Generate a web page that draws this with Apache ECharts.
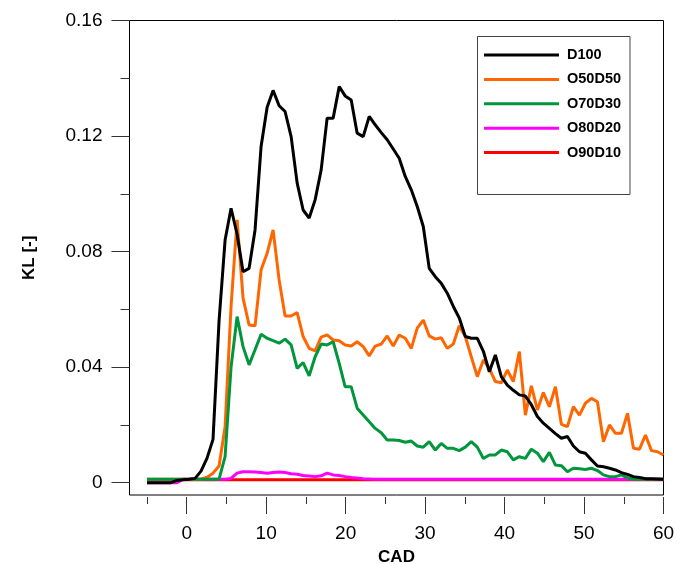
<!DOCTYPE html>
<html>
<head>
<meta charset="utf-8">
<script src="https://cdn.jsdelivr.net/npm/echarts@6/dist/echarts.min.js"></script>
<style>
html,body{margin:0;padding:0;background:#fff;}
#chart{width:689px;height:564px;}
</style>
</head>
<body>
<div id="chart"></div>
<script>
// Crank angle (CAD) sample positions
const cad = [-5.00,-4.24,-3.49,-2.73,-1.98,-1.22,-0.47,0.29,1.05,1.80,
  2.56,3.31,4.07,4.83,5.58,6.34,7.09,7.85,8.60,9.36,
  10.12,10.87,11.63,12.38,13.14,13.90,14.65,15.41,16.16,16.92,
  17.67,18.43,19.19,19.94,20.70,21.45,22.21,22.97,23.72,24.48,
  25.23,25.99,26.74,27.50,28.26,29.01,29.77,30.52,31.28,32.03,
  32.79,33.55,34.30,35.06,35.81,36.57,37.33,38.08,38.84,39.59,
  40.35,41.10,41.86,42.62,43.37,44.13,44.88,45.64,46.40,47.15,
  47.91,48.66,49.42,50.17,50.93,51.69,52.44,53.20,53.95,54.71,
  55.47,56.22,56.98,57.73,58.49,59.24,60.00];

const d100 = [0,0,0,0,0,0.0008,0.001,0.0012,0.0015,0.004,
  0.0085,0.015,0.056,0.084,0.095,0.086,0.073,0.0742,0.0875,0.1164,
  0.130,0.1358,0.1305,0.1285,0.1198,0.1037,0.0944,0.0916,0.0979,0.1083,
  0.1262,0.1262,0.1371,0.1339,0.1325,0.121,0.1198,0.1268,0.1239,0.1212,
  0.1187,0.1155,0.1123,0.106,0.1014,0.0956,0.0887,0.0742,0.0713,0.069,
  0.0656,0.061,0.057,0.0506,0.050,0.050,0.0455,0.0384,0.0442,0.0367,
  0.0338,0.032,0.0304,0.030,0.027,0.0229,0.0206,0.0188,0.017,0.0154,
  0.016,0.0127,0.0107,0.0102,0.0079,0.0058,0.0055,0.005,0.0044,0.0035,
  0.0029,0.0021,0.0018,0.0014,0.0014,0.0013,0.0012];

const o50d50 = [0.0012,0.0012,0.0012,0.0012,0.0012,0.0012,0.0012,0.0012,0.0012,0.0012,
  0.0019,0.0033,0.0058,0.0194,0.061,0.091,0.0639,0.0546,0.0543,0.0737,
  0.0794,0.0875,0.0702,0.0577,0.0577,0.0589,0.0506,0.0465,0.0456,0.0504,
  0.0512,0.0494,0.0491,0.0477,0.0473,0.0488,0.0471,0.0439,0.0473,0.048,
  0.0508,0.0473,0.0511,0.050,0.0465,0.0535,0.0563,0.0508,0.0497,0.0502,
  0.0465,0.048,0.0543,0.0506,0.0436,0.0367,0.0425,0.0396,0.035,0.0346,
  0.039,0.035,0.0454,0.0234,0.0335,0.0252,0.0312,0.0263,0.0332,0.0202,
  0.0194,0.0263,0.0234,0.0275,0.0292,0.028,0.0142,0.020,0.0171,0.0171,
  0.024,0.0119,0.0116,0.0165,0.0111,0.0107,0.0096];

const o70d30 = [0.0012,0.0012,0.0012,0.0012,0.0012,0.0012,0.0012,0.0012,0.0012,0.0012,
  0.0012,0.0012,0.0012,0.009,0.040,0.0575,0.0471,0.0408,0.046,0.0514,
  0.050,0.0492,0.0483,0.0497,0.0477,0.0396,0.0416,0.037,0.0436,0.048,
  0.0477,0.0488,0.0413,0.0332,0.0332,0.0258,0.0234,0.0211,0.0188,0.0173,
  0.0148,0.0148,0.0146,0.014,0.0144,0.0127,0.0123,0.0142,0.0113,0.0136,
  0.0119,0.0119,0.0111,0.0123,0.0142,0.0123,0.0084,0.0096,0.0096,0.0113,
  0.0107,0.0079,0.009,0.0084,0.0116,0.0102,0.0073,0.0105,0.0061,0.0059,
  0.0038,0.005,0.0048,0.0046,0.005,0.0042,0.0027,0.0021,0.0021,0.0027,
  0.0017,0.0012,0.0012,0.0012,0.0012,0.0012,0.0012];

const o80d20 = [0,0,0,0,0,0,0.0012,0.0012,0.0012,0.0012,
  0.0012,0.0012,0.0012,0.0012,0.0015,0.0033,0.0038,0.0038,0.0037,0.0035,
  0.0033,0.0035,0.0037,0.0035,0.0031,0.0029,0.0025,0.0023,0.0021,0.0024,
  0.0033,0.0027,0.0025,0.0021,0.0018,0.0016,0.0014,0.0013,0.0012,0.0012,
  0.0012,0.0012,0.0012,0.0012,0.0012,0.0012,0.0012,0.0012,0.0012,0.0012,
  0.0012,0.0012,0.0012,0.0012,0.0012,0.0012,0.0012,0.0012,0.0012,0.0012,
  0.0012,0.0012,0.0012,0.0012,0.0012,0.0012,0.0012,0.0012,0.0012,0.0012,
  0.0012,0.0012,0.0012,0.0012,0.0012,0.0012,0.0012,0.0012,0.0012,0.0012,
  0.0012,0.0012,0.0012,0.0012,0.0012,0.0012,0.0012];

const o90d10 = [0.001,0.001,0.001,0.001,0.001,0.001,0.001,0.001,0.001,0.001,
  0.001,0.001,0.001,0.001,0.001,0.001,0.001,0.001,0.001,0.001,
  0.001,0.001,0.001,0.001,0.001,0.001,0.001,0.001,0.001,0.001,
  0.001,0.001,0.001,0.001,0.001,0.001,0.001,0.001,0.001,0.001,
  0.001,0.001,0.001,0.001,0.001,0.001,0.001,0.001,0.001,0.001,
  0.001,0.001,0.001,0.001,0.001,0.001,0.001,0.001,0.001,0.001,
  0.001,0.001,0.001,0.001,0.001,0.001,0.001,0.001,0.001,0.001,
  0.001,0.001,0.001,0.001,0.001,0.001,0.001,0.001,0.001,0.001,
  0.001,0.001,0.001,0.001,0.001,0.001,0.001];

const seriesNames = ['D100','O50D50','O70D30','O80D20','O90D10'];
const xMajorTicks = [0,10,20,30,40,50,60];
const xMinorTicks = [-5,5,15,25,35,45,55];
const yMajorTicks = [0,0.04,0.08,0.12,0.16];
const yMinorTicks = [0.02,0.06,0.10,0.14];

const FONT = '"Liberation Sans", Arial, Helvetica, sans-serif';
const pair = arr => cad.map((x, i) => [x, arr[i]]);

const chart = echarts.init(document.getElementById('chart'), null, {renderer: 'canvas'});

const mkSeries = (name, arr, color, z) => ({
  name, type: 'line', data: pair(arr), symbol: 'none', showSymbol: false,
  lineStyle: {color, width: 3}, itemStyle: {color}, z, animation: false
});

const hiddenLine = {show: false, onZero: false};

chart.setOption({
  animation: false,
  backgroundColor: '#fff',
  grid: {left: 129.5, top: 20.5, right: 25.5, bottom: 69, show: true,
         containLabel: false, outerBoundsMode: 'none',
         borderColor: '#000', borderWidth: 1, backgroundColor: 'transparent'},
  xAxis: [{
    type: 'value', min: -7.2, max: 60, offset: 2, position: 'bottom',
    axisLine: hiddenLine, splitLine: {show: false},
    axisTick: {show: true, customValues: xMajorTicks, length: 17, lineStyle: {color: '#333', width: 1}},
    axisLabel: {customValues: xMajorTicks, fontSize: 19, color: '#000', fontFamily: FONT, margin: 27.5},
    name: 'CAD', nameLocation: 'middle', nameGap: 50,
    nameTextStyle: {fontSize: 17, fontWeight: 'bold', color: '#000', fontFamily: FONT}
  }, {
    type: 'value', min: -7.2, max: 60, offset: 2, gridIndex: 0, position: 'bottom',
    axisLine: hiddenLine, splitLine: {show: false},
    axisTick: {show: true, customValues: xMinorTicks, length: 7, lineStyle: {color: '#333', width: 1}},
    axisLabel: {show: false}
  }],
  yAxis: [{
    type: 'value', min: -0.00426, max: 0.16, position: 'left',
    axisLine: hiddenLine, splitLine: {show: false},
    axisTick: {show: true, customValues: yMajorTicks, length: 18, lineStyle: {color: '#333', width: 1}},
    axisLabel: {customValues: yMajorTicks, fontSize: 19, color: '#000', fontFamily: FONT, margin: 27,
      formatter: v => (Math.abs(v) < 1e-9 ? '0' : String(+v.toFixed(2)))},
    name: 'KL [-]', nameLocation: 'middle', nameGap: 92,
    nameTextStyle: {fontSize: 17, fontWeight: 'bold', color: '#000', fontFamily: FONT}
  }, {
    type: 'value', min: -0.00426, max: 0.16, gridIndex: 0, position: 'left', offset: 0,
    axisLine: hiddenLine, splitLine: {show: false},
    axisTick: {show: true, customValues: yMinorTicks, length: 9, lineStyle: {color: '#333', width: 1}},
    axisLabel: {show: false}
  }],
  legend: {
    data: seriesNames, orient: 'vertical', left: 484, top: 47.5,
    itemWidth: 75, itemHeight: 14, itemGap: 9.4, padding: 0,
    icon: 'path://M0,0 M75,14 M0,5.5 L75,5.5 L75,8.5 L0,8.5 Z',
    itemStyle: {borderWidth: 0},
    textStyle: {fontSize: 14.5, fontWeight: 'bold', color: '#000', fontFamily: FONT, padding: [0,0,0,3]}
  },
  graphic: [{
    type: 'rect', shape: {x: 477.5, y: 36.5, width: 152.5, height: 158},
    style: {fill: 'transparent', stroke: '#444', lineWidth: 1}, silent: true, z: 1
  }],
  series: [
    mkSeries('O90D10', o90d10, '#FF0000', 1),
    mkSeries('O80D20', o80d20, '#FF00FF', 2),
    mkSeries('O50D50', o50d50, '#FF6600', 3),
    mkSeries('O70D30', o70d30, '#00963C', 4),
    mkSeries('D100', d100, '#000000', 5)
  ]
});
</script>
</body>
</html>
